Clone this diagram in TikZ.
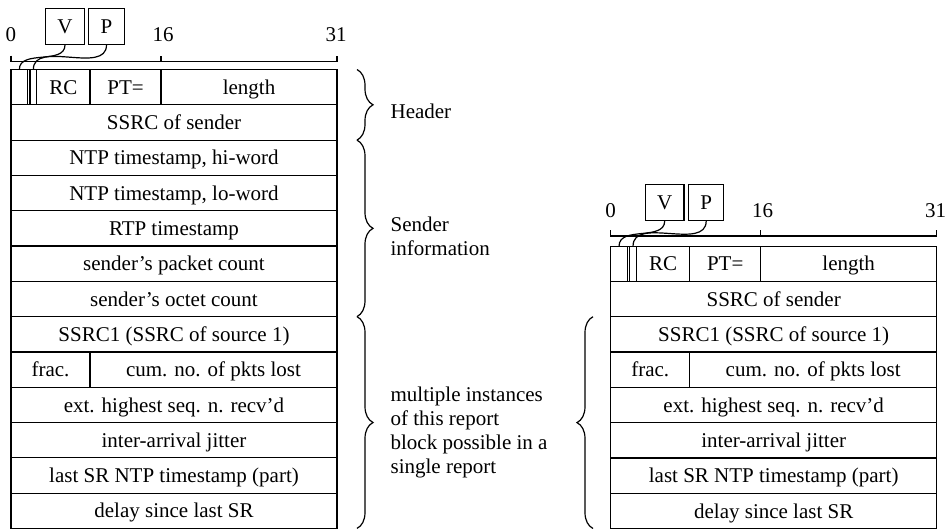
\documentclass[tikz,border=0pt]{standalone}
\usepackage{fontspec}
\setmainfont{Liberation Serif}
\usetikzlibrary{positioning,decorations.pathreplacing}

\tikzset{
  field/.style={draw, anchor=north west, minimum height=17.65pt, inner sep=0pt, outer sep=0pt,
    text height=9.4pt, text depth=2.2pt},
  bitbox/.style={draw, minimum height=18pt, inner xsep=5.9pt, inner ysep=0pt},
  bitnum/.style={inner sep=0pt},
  note/.style={anchor=west, align=left, inner sep=0pt},
  brace/.style={decorate, decoration={brace, amplitude=8pt}},
}

\begin{document}
\begin{tikzpicture}[x=0.5pt, y=-0.5pt, line width=0.6pt, font=\fontsize{10.5}{11.9}\selectfont]
  \useasboundingbox (0,0) rectangle (948,531);

  % sender report (left)
  \coordinate (lt0) at (11,61.5); \coordinate (lt16) at (161,61.5); \coordinate (lt31) at (337,61.5);
  \draw (lt0) ++(0,-6) -- (lt0) -- (lt31) -- ++(0,-6);
  \draw (lt16) -- ++(0,-6);
  \node[bitnum] (ln0) at (11,35) {0};
  \node[bitnum] (ln16) at (163,35) {16};
  \node[bitnum] (ln31) at (336,35) {31};

  \node[field, minimum width=8.35pt] (lvb) at (11,69.5) {};
  \node[field, minimum width=1.15pt, right=0pt of lvb] (lpb) {};
  \node[field, minimum width=3.35pt, right=0pt of lpb] (lxb) {};
  \node[field, minimum width=26.65pt, right=0pt of lxb] (lrc) {RC};
  \node[field, minimum width=35.5pt, right=0pt of lrc] (lpt) {PT=};
  \node[field, minimum width=88pt, right=0pt of lpt] (llen) {length};

  \foreach \txt [count=\i] in {{SSRC of sender},{NTP timestamp, hi-word},{NTP timestamp, lo-word},
      {RTP timestamp},{sender's packet count},{sender's octet count},{SSRC1 (SSRC of source 1)},{},
      {ext. highest seq. n. recv'd},{inter-arrival jitter},{last SR NTP timestamp (part)},{delay since last SR}}
    \node[field, minimum width=163pt] (l\i) at (11,{69.5+35.3*\i}) {\txt};
  \node[field, minimum width=39.5pt] (lfrac) at (l8.north west) {frac.};
  \node[field, minimum width=123.5pt, right=0pt of lfrac] (lcum) {cum. no. of pkts lost};

  \node[bitbox] (lV) at (65,26.3) {V};
  \node[bitbox] (lP) at (106.5,26.3) {P};
  \draw (lV.south) to[out=-90,in=90] (lvb.north);
  \draw (lP.south) to[out=-90,in=90] (lxb.north);

  \draw[brace] ([xshift=10pt]llen.north east) -- ([xshift=10pt]l1.south east);
  \draw[brace] ([xshift=10pt]l1.south east) -- ([xshift=10pt]l6.south east);
  \draw[brace] ([xshift=10pt]l6.south east) -- ([xshift=10pt]l12.south east);
  \node[note] (nhdr) at (390,111) {Header};
  \node[note] (nsend) at (390,236) {Sender\\information};
  \node[note] (nmulti) at (390,432.5) {multiple instances\\of this report\\block possible in a\\single report};

  % receiver report (right)
  \coordinate (rt0) at (610.7,236); \coordinate (rt16) at (760.7,236); \coordinate (rt31) at (936.7,236);
  \draw (rt0) ++(0,-6) -- (rt0) -- (rt31) -- ++(0,-6);
  \draw (rt16) -- ++(0,-6);
  \node[bitnum] (rn0) at (610.7,211) {0};
  \node[bitnum] (rn16) at (762.7,211) {16};
  \node[bitnum] (rn31) at (935.7,211) {31};

  \node[field, minimum width=8.35pt] (rvb) at (610.7,246.1) {};
  \node[field, minimum width=1.15pt, right=0pt of rvb] (rpb) {};
  \node[field, minimum width=3.35pt, right=0pt of rpb] (rxb) {};
  \node[field, minimum width=26.65pt, right=0pt of rxb] (rrc) {RC};
  \node[field, minimum width=35.5pt, right=0pt of rrc] (rpt) {PT=};
  \node[field, minimum width=88pt, right=0pt of rpt] (rlen) {length};

  \foreach \txt [count=\i] in {{SSRC of sender},{SSRC1 (SSRC of source 1)},{},
      {ext. highest seq. n. recv'd},{inter-arrival jitter},{last SR NTP timestamp (part)},{delay since last SR}}
    \node[field, minimum width=163pt] (r\i) at (610.7,{246.1+35.3*\i}) {\txt};
  \node[field, minimum width=39.5pt] (rfrac) at (r3.north west) {frac.};
  \node[field, minimum width=123.5pt, right=0pt of rfrac] (rcum) {cum. no. of pkts lost};

  \node[bitbox] (rV) at (664.7,202.3) {V};
  \node[bitbox] (rP) at (706.2,202.3) {P};
  \draw (rV.south) to[out=-90,in=90] (rvb.north);
  \draw (rP.south) to[out=-90,in=90] (rxb.north);

  \draw[brace] ([xshift=-8.85pt]r7.south west) -- ([xshift=-8.85pt]r1.south west);
\end{tikzpicture}
\end{document}
